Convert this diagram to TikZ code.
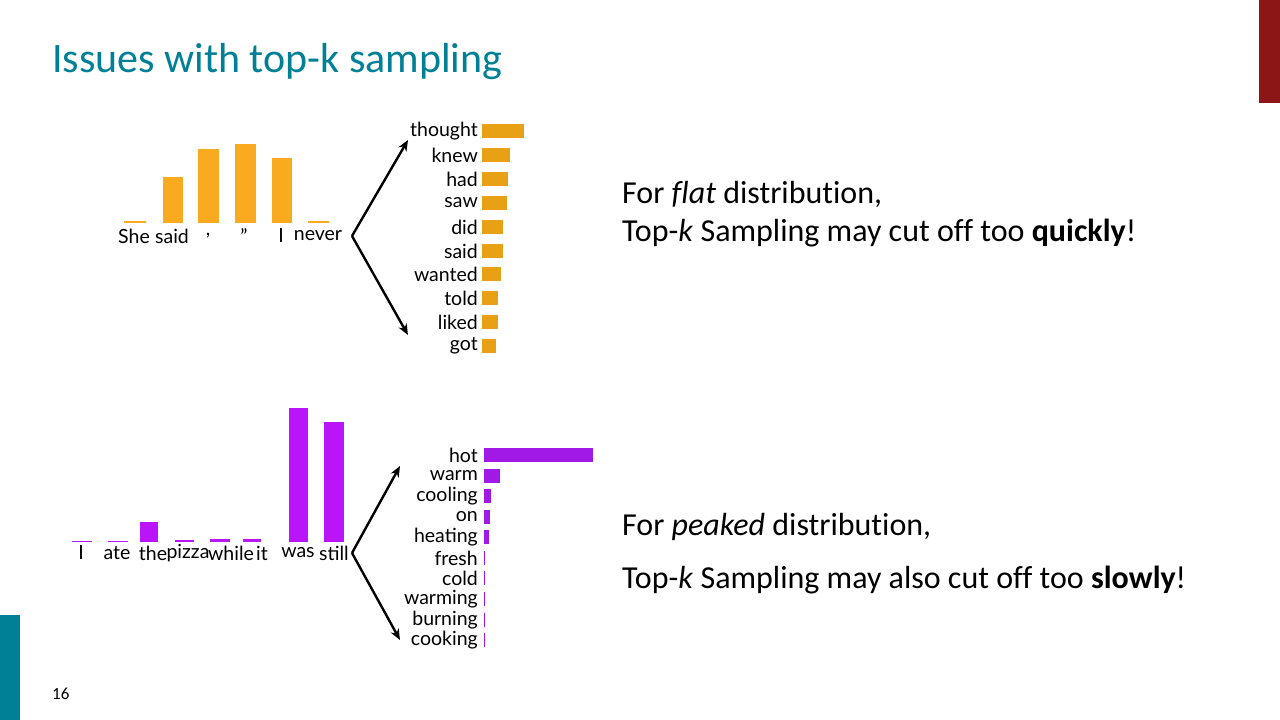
\documentclass[tikz,border=0pt]{standalone}
\usepackage{fontspec}
\setmainfont[Ligatures=NoCommon]{Carlito}
\newfontfamily\lab{Lato}
\definecolor{teal1}{RGB}{0,128,150}
\definecolor{dred}{RGB}{140,22,22}
\definecolor{gold}{RGB}{250,170,30}
\definecolor{gold2}{RGB}{232,160,20}
\definecolor{purp}{RGB}{185,20,250}
\definecolor{purp2}{RGB}{160,25,230}
\tikzset{lbl/.style={font=\lab\fontsize{19.5}{19.5}\selectfont, inner sep=0pt},
 wl/.style={lbl, anchor=east},
 arr/.style={-{Stealth[length=11pt,width=9pt]}, line width=2.4pt},
 body/.style={font=\fontsize{32}{36}\selectfont, anchor=west, inner sep=0pt}}
\usetikzlibrary{arrows.meta}
\begin{document}
\begin{tikzpicture}[x=1pt,y=-1pt]
\useasboundingbox (0,0) rectangle (1280,720);
\fill[white] (0,0) rectangle (1280,720);
\fill[dred] (1259,0) rectangle (1280,103);
\fill[teal1] (0,615) rectangle (20,720);
\node[anchor=west, inner sep=0pt, text=teal1, font=\fontsize{42}{46}\selectfont] (title) at (52,62) {Issues with top-k sampling};
\node[anchor=west, inner sep=0pt, font=\fontsize{17}{17}\selectfont] (pg) at (52,694) {16};
% top left bars
\foreach \a/\b/\t in {124/146/221,163/183/177,198/219/149,235/256/144,272/292/158,308/329/221}
  \fill[gold] (\a,223) rectangle (\b,\t);
\foreach \x/\w [count=\i] in {134/She,172/said,208/{,},244/{”},281/I,318/never}
  \node[lbl] (t\i) at (\x,236) {\w};
\coordinate (tsrc) at (352,236);
\coordinate (tup) at (408,140);
\coordinate (tdn) at (408,335);
\draw[arr] (tsrc) -- (tup);
\draw[arr] (tsrc) -- (tdn);
\foreach \w/\y/\l [count=\i] in {thought/131/42,knew/155/28,had/179/26,saw/203/25,did/227/21,said/251/21,wanted/274/19,told/298/16,liked/322/16,got/346/14}{
  \node[wl] (tw\i) at (478,\y) {\w};
  \fill[gold2] (482,\y-7) rectangle (482+\l,\y+7);}
% bottom
\foreach \a/\b/\t in {72/92/541,108/128/541,140/158/522,175/194/540,210/230/539,243/261/539,289/308/408,324/344/422}
  \fill[purp] (\a,542) rectangle (\b,\t);
\foreach \x/\w [count=\i] in {81/I,117/ate,153/the,188/pizza,231/while,262/it,298/was,334/still}
  \node[lbl] (b\i) at (\x,553) {\w};
\coordinate (bsrc) at (352,553);
\coordinate (bup) at (400,466);
\coordinate (bdn) at (400,640);
\draw[arr] (bsrc) -- (bup);
\draw[arr] (bsrc) -- (bdn);
\foreach \w/\y/\l [count=\i] in {hot/455/109,warm/476/16,cooling/496/7,on/517/6,heating/537/5,fresh/558/1.2,cold/578/1.2,warming/599/1,burning/620/1,cooking/640/1}{
  \node[wl] (bw\i) at (478,\y) {\w};
  \fill[purp2] (484,\y-7) rectangle (484+\l,\y+7);}
% text
\node[body] (f1) at (622,194) {For \textit{flat} distribution,};
\node[body] (f2) at (622,233) {Top-\textit{k} Sampling may cut off too \textbf{quickly}!};
\node[body] (p1) at (622,527) {For \textit{peaked} distribution,};
\node[body] (p2) at (622,580) {Top-\textit{k} Sampling may also cut off too \textbf{slowly}!};
\end{tikzpicture}
\end{document}
